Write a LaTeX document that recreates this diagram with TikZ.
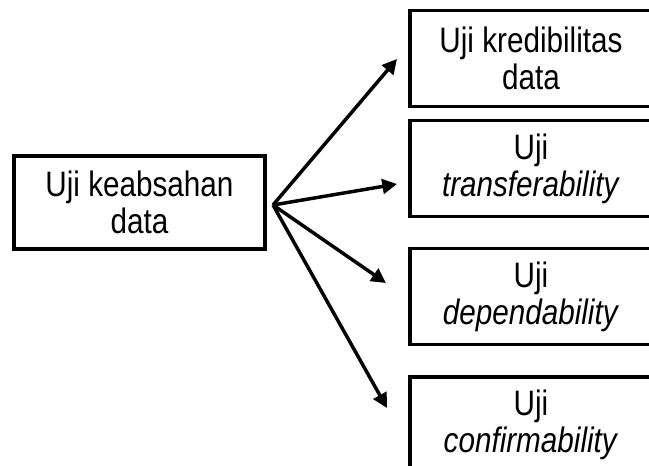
\documentclass[tikz,border=0pt]{standalone}
\usepackage{fontspec}
\setmainfont{Liberation Sans}[FakeStretch=0.84]
\usetikzlibrary{arrows.meta}

\begin{document}
\begin{tikzpicture}[x=0.75pt, y=-0.75pt,
box/.style={draw, line width=2.6pt, align=center, inner sep=0pt, font=\fontsize{26.5}{27.75}\selectfont},
src/.style={box, minimum width=188.25pt, minimum height=69.75pt},
uji/.style={box, minimum width=181.5pt, minimum height=72pt},
arrow/.style={-{Triangle[length=11pt, width=11pt]}, line width=2.6pt}
]
\useasboundingbox (0,0) rectangle (649,466);
\clip (0,0) rectangle (649,466);
\node[src] (keab) at (139.5,202.5) {Uji keabsahan\\data};
\node[uji] (kred) at (531,58.5) {Uji kredibilitas\\data};
\node[uji] (trans) at (531,168.5) {Uji\\\textit{transferability}};
\node[uji] (dep) at (531,296.5) {Uji\\\textit{dependability}};
\node[uji] (conf) at (531,425) {Uji\\\textit{confirmability}};
\coordinate (hub) at (273,205);
\coordinate (t1) at (397,59);
\coordinate (t2) at (397,184);
\coordinate (t3) at (386,283);
\coordinate (t4) at (387,408);
\foreach \t in {t1,t2,t3,t4} {\draw[arrow] (hub) -- (\t);}
\end{tikzpicture}
\end{document}
